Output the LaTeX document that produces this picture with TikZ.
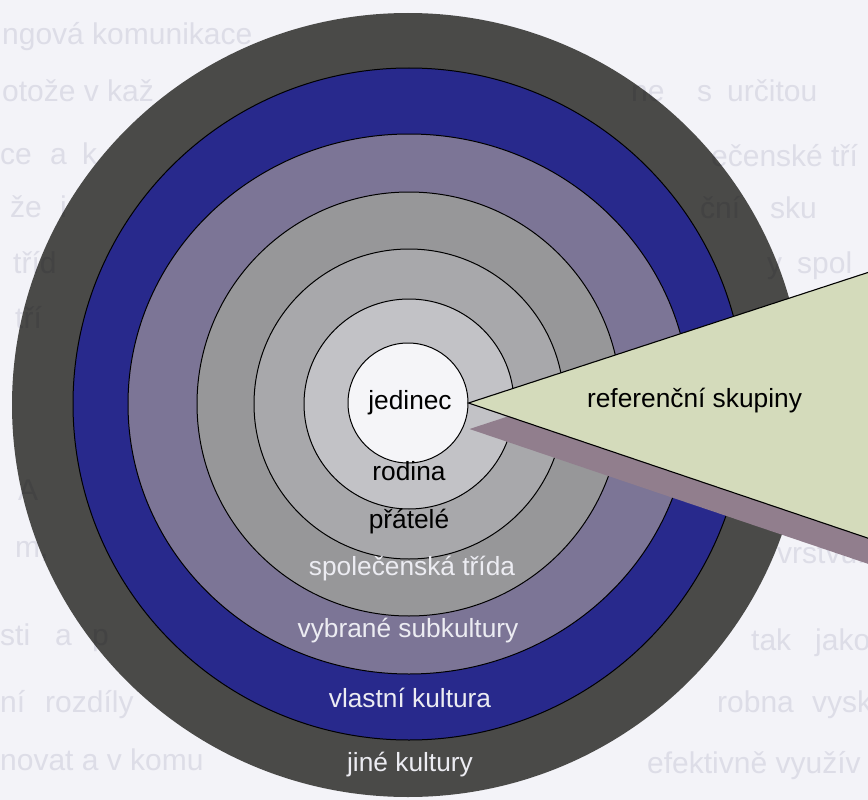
\documentclass[tikz,border=0pt]{standalone}
\usepackage{fontspec}
\setmainfont{Liberation Sans}
\definecolor{pagebg}{HTML}{F3F3F8}
\definecolor{bgtext}{HTML}{E8E8EE}
\definecolor{darkring}{HTML}{4A4A48}
\definecolor{bluering}{HTML}{28298C}
\definecolor{purplering}{HTML}{7C7596}
\definecolor{grayone}{HTML}{979799}
\definecolor{graytwo}{HTML}{A8A8AB}
\definecolor{graythree}{HTML}{C2C2C6}
\definecolor{innerwhite}{HTML}{F5F5F8}
\definecolor{trifill}{HTML}{D4DBBB}
\definecolor{shadowc}{HTML}{917E8D}
\definecolor{labwhite}{HTML}{ECECF2}
\begin{document}
\begin{tikzpicture}[x=1pt,y=-1pt,
  ring/.style={draw=black,line width=1pt},
  lab/.style={anchor=base,inner sep=0pt,font=\fontsize{26.3}{30}\selectfont},
  wlab/.style={lab,text=labwhite},
  bg/.style={anchor=base west,inner sep=0pt,text=bgtext,font=\fontsize{30}{34}\selectfont}]
\useasboundingbox (0,0) rectangle (868,800);
\clip (0,0) rectangle (868,800);
\fill[pagebg] (0,0) rectangle (868,800);
% rings
\fill[darkring] (408,405) ellipse [x radius=396pt,y radius=392pt];
\draw[ring,fill=bluering] (409,404) circle [radius=336pt];
\draw[ring,fill=purplering] (409,404) ellipse [x radius=281pt,y radius=270pt];
\draw[ring,fill=grayone] (409,404) circle [radius=212pt];
\draw[ring,fill=graytwo] (409,404) circle [radius=155pt];
\draw[ring,fill=graythree] (409,404) circle [radius=105pt];
\node[circle,draw=black,line width=1pt,fill=innerwhite,minimum size=120pt,inner sep=0pt] (core) at (408,403) {};
% faint text showing through from the page behind
\begin{scope}[blend mode=multiply]
\node[bg] (b1) at (2,45) {ngová komunikace};
\node[bg] (b2) at (2,102) {otože v kaž};
\node[bg] (b3) at (631,102) {ne};
\node[bg] (b4) at (697,102) {s};
\node[bg] (b5) at (727,102) {určitou};
\node[bg] (b6) at (0,164) {ce};
\node[bg] (b7) at (50,164) {a};
\node[bg] (b8) at (82,164) {k};
\node[bg] (b9) at (711,166) {ečenské tří};
\node[bg] (b10) at (10,217) {že};
\node[bg] (b11) at (60,217) {i};
\node[bg] (b12) at (700,218) {ční};
\node[bg] (b13) at (770,218) {sku};
\node[bg] (b14) at (13,273) {tříd};
\node[bg] (b15) at (767,273) {y};
\node[bg] (b16) at (797,273) {spol};
\node[bg] (b17) at (15,328) {tří};
\node[bg] (b18) at (18,500) {A};
\node[bg] (b19) at (15,557) {m,};
\node[bg] (b20) at (777,563) {vrstvu.};
\node[bg] (b21) at (0,645) {sti};
\node[bg] (b22) at (55,645) {a};
\node[bg] (b23) at (92,645) {p};
\node[bg] (b24) at (751,650) {tak};
\node[bg] (b25) at (815,650) {jako};
\node[bg] (b26) at (0,712) {ní};
\node[bg] (b27) at (45,712) {rozdíly};
\node[bg] (b28) at (717,712) {robna};
\node[bg] (b29) at (812,712) {vysk};
\node[bg] (b30) at (0,770) {novat a v komu};
\node[bg] (b31) at (647,773) {efektivně využív};
\end{scope}
% pointer
\coordinate (apex) at (core.east);
\coordinate (tu) at (900,262);
\coordinate (tl) at (900,549);
\fill[shadowc] ([shift={(1,26)}]apex) -- ([shift={(1,26)}]tu) -- ([shift={(1,26)}]tl) -- cycle;
\draw[line width=1.1pt,fill=trifill,line join=miter] (apex) -- (tu) -- (tl) -- cycle;
% labels
\node[lab] (jed) at (410,409) {jedinec};
\node[lab] (ref) at (694.5,407) {referenční skupiny};
\node[lab] (rod) at (409,480) {rodina};
\node[lab] (pra) at (409,528) {přátelé};
\node[wlab] (spo) at (412,575) {společenská třída};
\node[wlab] (vyb) at (408,637) {vybrané subkultury};
\node[wlab] (vla) at (410,707) {vlastní kultura};
\node[wlab] (jin) at (410,771) {jiné kultury};
\end{tikzpicture}
\end{document}
